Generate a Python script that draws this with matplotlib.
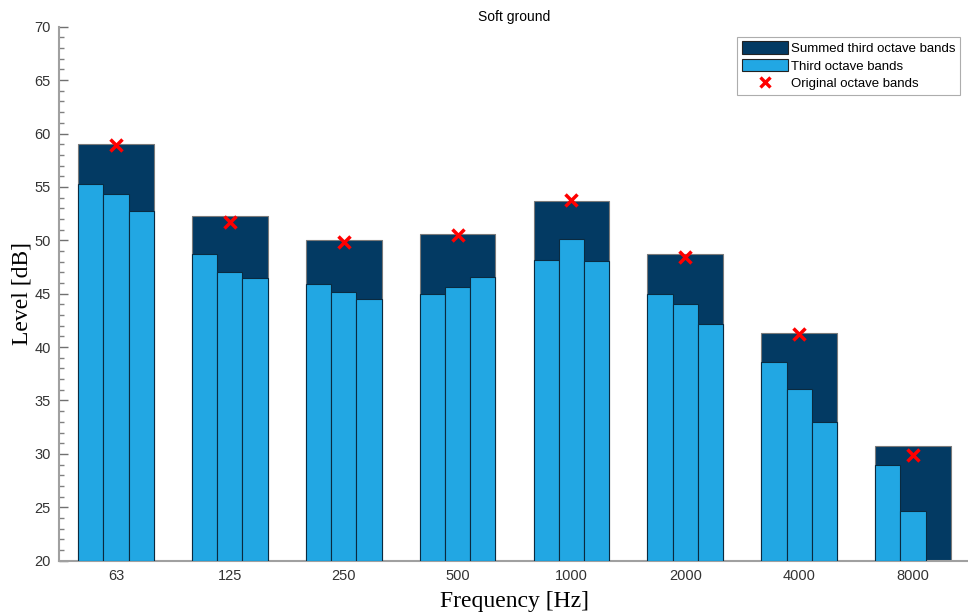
import numpy as np
import matplotlib
matplotlib.use("Agg")
import matplotlib.pyplot as plt
from matplotlib.ticker import MultipleLocator
from matplotlib.patches import Patch
from matplotlib.lines import Line2D

bands = ["63", "125", "250", "500", "1000", "2000", "4000", "8000"]
summed = [59.0, 52.3, 50.0, 50.6, 53.7, 48.7, 41.3, 30.7]
original = [58.9, 51.7, 49.8, 50.5, 53.8, 48.4, 41.2, 29.9]
third_low = [55.3, 48.7, 45.9, 45.0, 48.2, 45.0, 38.6, 29.0]
third_mid = [54.3, 47.0, 45.2, 45.6, 50.1, 44.0, 36.1, 24.7]
third_high = [52.7, 46.5, 44.5, 46.6, 48.1, 42.2, 33.0, np.nan]

dark = "#033a63"
light = "#22a7e3"
base = 20

fig = plt.figure(figsize=(9.68, 6.16), dpi=100)
ax = fig.add_axes([59/968, 55.3/616, 911/968, 534/616])

x = np.arange(len(bands))
gw = 0.665
tw = gw / 3

ax.bar(x, np.array(summed) - base, bottom=base, width=gw, color=dark,
       edgecolor="#7a7a7a", linewidth=0.8, zorder=2)
for k, vals in enumerate([third_low, third_mid, third_high]):
    v = np.array(vals, dtype=float)
    ax.bar(x - gw/2 + tw*(k + 0.5), v - base, bottom=base, width=tw,
           color=light, edgecolor="#0a2a40", linewidth=0.8, zorder=3)
ax.plot(x, original, linestyle="none", marker="x", color="#ff0000",
        markersize=9, markeredgewidth=2.5, zorder=4)

ax.set_xlim(-0.5, 7.5)
ax.set_ylim(20, 70)
ax.set_xticks(x)
ax.set_xticklabels(bands)
ax.yaxis.set_major_locator(MultipleLocator(5))
ax.yaxis.set_minor_locator(MultipleLocator(1))

for s in ["top", "right"]:
    ax.spines[s].set_visible(False)
for s in ["left", "bottom"]:
    ax.spines[s].set_color("#a0a0a0")
    ax.spines[s].set_linewidth(1.5)

ax.tick_params(axis="both", which="major", direction="in", length=6.5,
               width=1.0, color="#707070", labelsize=10.5, labelcolor="#333333", pad=6)
ax.tick_params(axis="y", which="minor", direction="in", length=3.5,
               width=1.0, color="#808080")
ax.tick_params(axis="x", which="minor", bottom=False)
for lab in ax.get_xticklabels() + ax.get_yticklabels():
    lab.set_family("Liberation Sans")

ax.set_xlabel("Frequency [Hz]", family="Liberation Serif", fontsize=17, labelpad=6)
ax.set_ylabel("Level [dB]", family="Liberation Serif", fontsize=17, labelpad=1)
ax.set_title("Soft ground", family="Liberation Sans", fontsize=10, pad=4)

handles = [Patch(facecolor=dark, edgecolor="#222222", linewidth=0.8),
           Patch(facecolor=light, edgecolor="#222222", linewidth=0.8),
           Line2D([], [], linestyle="none", marker="x", color="#ff0000",
                  markersize=7.5, markeredgewidth=2.4)]
leg = ax.legend(handles, ["Summed third octave bands", "Third octave bands",
                          "Original octave bands"],
                loc="upper right", bbox_to_anchor=(901/911, 1 - 10/534),
                prop={"family": "Liberation Sans", "size": 9.5},
                frameon=True, fancybox=False, edgecolor="#999999",
                handlelength=3.5, handleheight=1.05, handletextpad=0.2,
                labelspacing=0.3, borderpad=0.35, borderaxespad=0)
leg.get_frame().set_linewidth(0.8)

fig.savefig("out.png", dpi=100)
